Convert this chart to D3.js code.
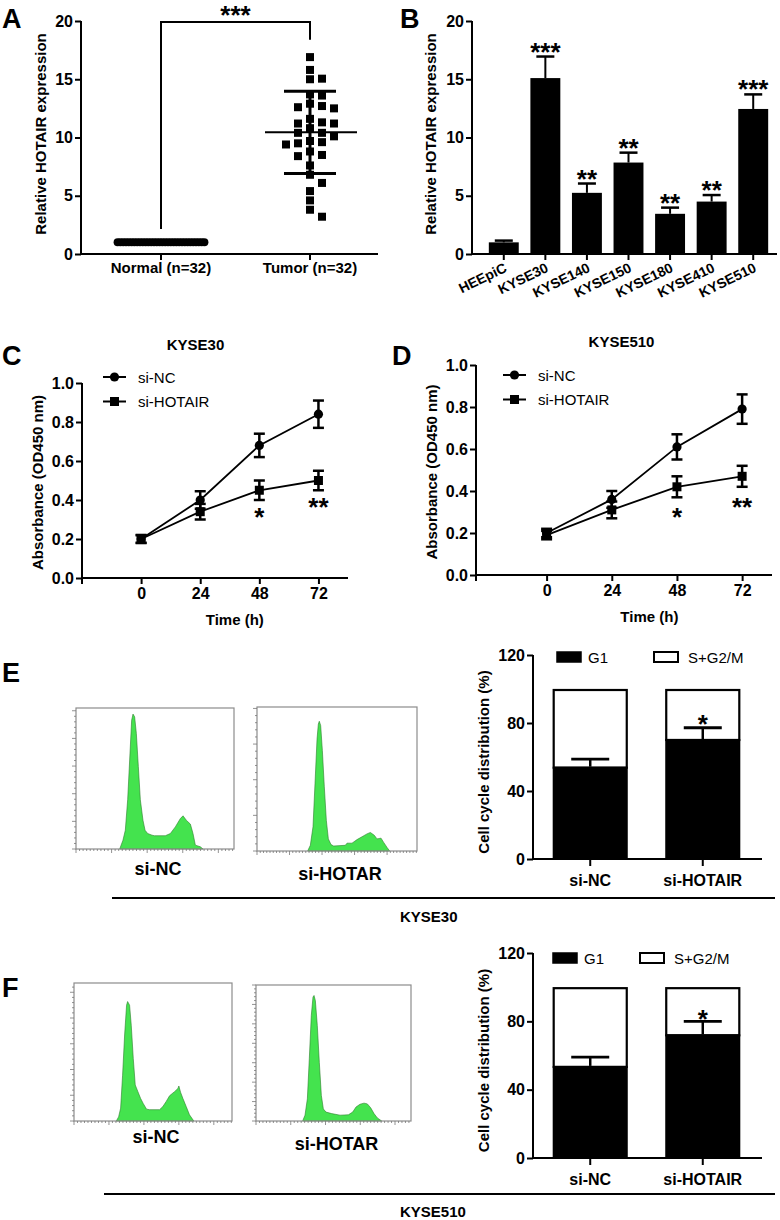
<!DOCTYPE html>
<html><head><meta charset="utf-8">
<script src="https://cdn.jsdelivr.net/npm/d3@7"></script>
<style>body{margin:0;background:#fff}</style>
</head><body>
<script>
// ================= DATA =================
// Panel A
const aGroups = ["Normal (n=32)", "Tumor (n=32)"];
const aNormal = [1.0,1.0,1.0,1.0,1.0,1.0,1.0,1.0,1.0,1.0,1.0,1.0,1.0,1.0,1.0,1.0,
                 1.0,1.0,1.0,1.0,1.0,1.0,1.0,1.0,1.0,1.0,1.0,1.0,1.0,1.0,1.0,1.0];
const aTumor = [16.9,15.8,15.0,15.05,13.6,13.7,12.9,12.6,12.5,12.7,11.6,11.3,11.2,11.2,10.8,10.4,
                10.1,10.4,9.7,9.6,9.4,9.5,8.8,8.4,8.5,7.6,6.8,6.1,5.4,4.6,3.8,3.2];
const aMean = [1.0, 10.45];
const aSD = [0, 3.53];
const aTicks = [0,5,10,15,20];
const aStars = "***";

// Panel B
const bCells = ["HEEpiC","KYSE30","KYSE140","KYSE150","KYSE180","KYSE410","KYSE510"];
const bValues = [1.0, 15.1, 5.25, 7.85, 3.45, 4.5, 12.45];
const bErrors = [0.15, 1.85, 0.8, 0.85, 0.53, 0.56, 1.25];
const bStars = ["", "***", "**", "**", "**", "**", "***"];
const bTicks = [0,5,10,15,20];

// Panels C / D
const timeH = [0, 24, 48, 72];
const odTicks = [0, 0.2, 0.4, 0.6, 0.8, 1.0];
const cNC = [0.20, 0.40, 0.68, 0.84];
const cNCerr = [0.02, 0.045, 0.06, 0.07];
const cHOT = [0.20, 0.34, 0.45, 0.50];
const cHOTerr = [0.02, 0.04, 0.05, 0.05];
const cStars = ["", "", "*", "**"];
const dNC = [0.20, 0.36, 0.61, 0.79];
const dNCerr = [0.02, 0.04, 0.06, 0.07];
const dHOT = [0.19, 0.31, 0.42, 0.47];
const dHOTerr = [0.02, 0.04, 0.05, 0.05];
const dStars = ["", "", "*", "**"];
const seriesNames = ["si-NC", "si-HOTAIR"];

// Panels E / F : cell cycle
const ccGroups = ["si-NC", "si-HOTAIR"];
const ccTicks = [0, 40, 80, 120];
const ccTotal = [100, 100];
const eG1 = [54.3, 70.6];
const eG1err = [4.5, 6.6];
const eStars = ["", "*"];
const fG1 = [53.9, 72.4];
const fG1err = [5.2, 7.6];
const fStars = ["", "*"];
const legendNames = ["G1", "S+G2/M"];

// Flow histograms [channel, count]
const e1Hist = [[61.4,0],[66.0,16],[69.3,34],[72.6,89],[75.4,161],[78.2,233],[80.1,244],[82.4,239],[84.8,209],[87.6,149],[90.4,89],[94.1,52],[97.0,34],[100.7,28],[106.8,25],[110.1,24],[125.5,24],[132.6,28],[139.6,40],[146.6,55],[150.4,60],[155.0,52],[160.7,45],[164.4,28],[167.7,7],[174.7,4],[178.5,0]];
const e2Hist = [[77.9,0],[82.0,8],[86.1,34],[89.2,95],[92.3,157],[94.3,178],[95.8,182],[97.9,176],[100.5,141],[103.5,90],[106.6,43],[109.7,17],[113.8,9],[117.9,7],[135.8,8],[138.4,11],[146.1,11],[153.8,16],[161.5,20],[169.1,24],[174.3,26],[180.4,22],[184.5,17],[190.7,18],[194.8,12],[199.9,5],[204.0,0]];
const f1Hist = [[60.5,0],[63.8,8],[66.7,25],[69.5,89],[72.4,167],[75.2,225],[76.7,232],[79.5,225],[81.9,186],[84.8,121],[87.6,70],[91.4,57],[95.2,44],[99.0,34],[103.8,23],[108.1,22],[122.4,22],[127.1,28],[131.9,38],[136.7,49],[143.8,57],[148.6,63],[150.0,68],[152.4,56],[155.7,44],[160.5,28],[165.2,12],[171.4,0]];
const f2Hist = [[67.1,0],[70.5,15],[73.9,57],[76.7,160],[79.6,272],[82.0,319],[83.5,323],[85.4,310],[88.2,246],[91.1,151],[94.0,66],[96.9,31],[100.7,23],[108.9,19],[120.9,15],[132.9,16],[139.1,23],[143.9,36],[149.6,43],[155.4,46],[160.2,44],[165.0,34],[169.8,19],[174.6,8],[180.8,0]];
const histLabels = ["si-NC", "si-HOTAR"];
const cellLines = ["KYSE30", "KYSE510"];

// ================= DRAW =================
const W = 780, H = 1220;
const FONT = "'Liberation Sans', Arial, Helvetica, sans-serif";
const svg = d3.select("body").append("svg").attr("width", W).attr("height", H)
  .style("font-family", FONT);
svg.append("rect").attr("width", W).attr("height", H).attr("fill", "#fff");

function txt(x, y, s, o = {}) {
  return svg.append("text").attr("x", x).attr("y", y).text(s)
    .attr("font-size", o.size || 16).attr("font-weight", o.weight || "bold")
    .attr("text-anchor", o.anchor || "start").attr("fill", "#000");
}
function vlabel(x, y, s, size) {
  svg.append("text").attr("transform", `translate(${x},${y}) rotate(-90)`)
    .attr("text-anchor", "middle").attr("font-size", size || 15).attr("font-weight", "bold").text(s);
}
function line(g, x1, y1, x2, y2, w) {
  return g.append("line").attr("x1", x1).attr("y1", y1).attr("x2", x2).attr("y2", y2)
    .attr("stroke", "#000").attr("stroke-width", w || 2).attr("stroke-linecap", "butt");
}
function styleAxis(sel, fs) {
  sel.select(".domain").remove();
  sel.selectAll(".tick line").attr("stroke", "#000").attr("stroke-width", 2);
  sel.selectAll(".tick text").attr("font-family", FONT).attr("font-weight", "bold")
    .attr("font-size", fs || 16).attr("fill", "#000");
}
function yAxis(x, scale, ticks, fmt, yTopPix, yBotPix) {
  const g = svg.append("g").attr("transform", `translate(${x},0)`)
    .call(d3.axisLeft(scale).tickValues(ticks).tickSize(6).tickPadding(2).tickFormat(fmt || d3.format("d")));
  styleAxis(g);
  line(g, 0, yTopPix, 0, yBotPix, 2);
  return g;
}

// Panel letters
[["A",2,28],["B",400,28],["C",2,365],["D",392,365],["E",2,682],["F",2,997]].forEach(([l,x,y]) =>
  txt(x, y, l, {size: 27}));

// ---------- Panel A ----------
(function () {
  const y = d3.scaleLinear().domain([0, 20]).range([254, 21]);
  const x = d3.scalePoint().domain(aGroups).range([161, 310]);
  const g = svg.append("g");
  yAxis(81, y, aTicks, d3.format("d"), y(20), y(0) + 1);
  line(g, 80, y(0), 378, y(0), 2);
  aGroups.forEach(gr => line(g, x(gr), y(0), x(gr), y(0) + 6, 2));
  aGroups.forEach(gr => txt(x(gr), 273, gr, {size: 15, anchor: "middle"}));
  vlabel(46, 134, "Relative HOTAIR expression", 15);

  // Normal group: tight row
  const nx = x(aGroups[0]);
  g.selectAll(".nrm").data(aNormal).enter().append("circle")
    .attr("cx", (d, i) => nx + (i - (aNormal.length - 1) / 2) * 2.8)
    .attr("cy", d => y(d)).attr("r", 4).attr("fill", "#000");
  // Tumor group: beeswarm
  const tx = x(aGroups[1]);
  const sq = 8, step = 12, placed = [];
  aTumor.map(v => v).sort((a, b) => b - a).forEach(v => {
    const py = y(v);
    for (const s of [0, 1, -1, 2, -2, 3, -3]) {
      if (!placed.some(q => q.s === s && Math.abs(q.y - py) < sq + 1)) { placed.push({s, y: py}); break; }
    }
  });
  g.selectAll(".tum").data(placed).enter().append("rect")
    .attr("x", d => tx + d.s * step - sq / 2).attr("y", d => d.y - sq / 2)
    .attr("width", sq).attr("height", sq).attr("fill", "#000");
  // mean & SD
  aGroups.forEach((gr, i) => {
    line(g, x(gr) - 45, y(aMean[i]), x(gr) + 47, y(aMean[i]), 2);
    if (aSD[i] > 0) {
      line(g, x(gr), y(aMean[i] - aSD[i]), x(gr), y(aMean[i] + aSD[i]), 3);
      line(g, x(gr) - 26, y(aMean[i] + aSD[i]), x(gr) + 26, y(aMean[i] + aSD[i]), 3);
      line(g, x(gr) - 26, y(aMean[i] - aSD[i]), x(gr) + 26, y(aMean[i] - aSD[i]), 3);
    }
  });
  // significance bracket
  g.append("path").attr("d", `M${x(aGroups[0])},${y(2.15)} V${y(20) + 1} H${x(aGroups[1])} V${y(18.4)}`)
    .attr("fill", "none").attr("stroke", "#000").attr("stroke-width", 2);
  txt((x(aGroups[0]) + x(aGroups[1])) / 2, 24, aStars, {size: 26, anchor: "middle"});
})();

// ---------- Panel B ----------
(function () {
  const y = d3.scaleLinear().domain([0, 20]).range([254, 21]);
  const x = d3.scaleBand().domain(bCells).range([483, 774]).paddingInner(0.28).paddingOuter(0.14);
  const g = svg.append("g");
  yAxis(472, y, bTicks, d3.format("d"), y(20), y(0) + 1);
  line(g, 471, y(0), 777, y(0), 2);
  vlabel(436, 134, "Relative HOTAIR expression", 15);
  bCells.forEach((c, i) => {
    const cx = x(c) + x.bandwidth() / 2;
    const top = y(bValues[i] + bErrors[i]);
    line(g, cx, y(bValues[i]), cx, top, 2);
    line(g, cx - 9, top, cx + 9, top, 2.5);
  });
  g.selectAll(".bar").data(bValues).enter().append("rect")
    .attr("x", (d, i) => x(bCells[i])).attr("y", d => y(d))
    .attr("width", x.bandwidth()).attr("height", d => y(0) - y(d)).attr("fill", "#000");
  bCells.forEach((c, i) => {
    const cx = x(c) + x.bandwidth() / 2;
    line(g, cx, y(0), cx, y(0) + 6, 2);
    svg.append("text").attr("transform", `translate(${cx + 4},271) rotate(-26)`)
      .attr("text-anchor", "end").attr("font-size", 14).attr("font-weight", "bold").text(c);
    if (bStars[i]) txt(cx, y(bValues[i] + bErrors[i]) + 4, bStars[i], {size: 26, anchor: "middle"});
  });
})();

// ---------- Panels C & D ----------
function growth(o) {
  const g = svg.append("g");
  const x = d3.scaleLinear().domain(o.xDom).range([o.x0, o.x1]);
  const y = d3.scaleLinear().domain([0, 1]).range([o.y0, o.y1]);
  yAxis(o.x0, y, odTicks, d3.format(".1f"), y(1), y(0) + 6);
  line(g, o.x0, y(0), o.x1, y(0), 2);
  const xa = svg.append("g").attr("transform", `translate(0,${y(0)})`)
    .call(d3.axisBottom(x).tickValues(timeH).tickSize(6).tickPadding(4));
  styleAxis(xa);
  txt(o.titleX, o.titleY, o.title, {size: 15, anchor: "middle"});
  txt((x(0) + x(72)) / 2 + 5, o.y0 + 47, "Time (h)", {size: 15, anchor: "middle"});
  vlabel(o.labX, (o.y0 + o.y1) / 2 + 2, "Absorbance (OD450 nm)", 15);
  const ln = d3.line().x((d, i) => x(timeH[i])).y(d => y(d));
  [[o.nc, o.ncErr], [o.hot, o.hotErr]].forEach(([v, e]) => {
    g.append("path").attr("d", ln(v)).attr("fill", "none").attr("stroke", "#000").attr("stroke-width", 1.8);
    v.forEach((d, i) => {
      const cx = x(timeH[i]);
      line(g, cx, y(d - e[i]), cx, y(d + e[i]), 2.5);
      line(g, cx - 5.5, y(d + e[i]), cx + 5.5, y(d + e[i]), 2.5);
      line(g, cx - 5.5, y(d - e[i]), cx + 5.5, y(d - e[i]), 2.5);
    });
  });
  g.selectAll(".nc").data(o.nc).enter().append("circle")
    .attr("cx", (d, i) => x(timeH[i])).attr("cy", d => y(d)).attr("r", 4.6).attr("fill", "#000");
  g.selectAll(".hot").data(o.hot).enter().append("rect")
    .attr("x", (d, i) => x(timeH[i]) - 4.5).attr("y", d => y(d) - 4.5).attr("width", 9).attr("height", 9).attr("fill", "#000");
  o.stars.forEach((s, i) => {
    if (s) txt(x(timeH[i]), y(o.hot[i] - o.hotErr[i]) + o.starOff, s, {size: 26, anchor: "middle"});
  });
  // legend
  const lx = o.legX, ly = o.legY;
  seriesNames.forEach((n, i) => {
    const yy = ly + i * 24.5;
    line(g, lx, yy, lx + 23, yy, 2);
    if (i === 0) g.append("circle").attr("cx", lx + 11.5).attr("cy", yy).attr("r", 4.6).attr("fill", "#000");
    else g.append("rect").attr("x", lx + 7).attr("y", yy - 4.5).attr("width", 9).attr("height", 9).attr("fill", "#000");
    txt(lx + 35, yy + 5.5, n, {size: 15, weight: "normal"});
  });
}
growth({x0: 82, x1: 348, xDom: [-24, 84], y0: 578, y1: 383, nc: cNC, ncErr: cNCerr, hot: cHOT, hotErr: cHOTerr,
  stars: cStars, starOff: 26, title: "KYSE30", titleX: 195.5, titleY: 350, labX: 43, legX: 103, legY: 377});
growth({x0: 476, x1: 772, xDom: [-26, 83], y0: 575, y1: 365, nc: dNC, ncErr: dNCerr, hot: dHOT, hotErr: dHOTerr,
  stars: dStars, starOff: 29, title: "KYSE510", titleX: 621.5, titleY: 347, labX: 437, legX: 503, legY: 375});

// ---------- Flow histograms ----------
function hist(box, xMax, yMax, xMajor, yMajor, pts, label, labelY) {
  const g = svg.append("g");
  const x = d3.scaleLinear().domain([0, xMax]).range([box.x, box.x + box.w]);
  const y = d3.scaleLinear().domain([0, yMax]).range([box.y + box.h, box.y]);
  g.append("path").datum(pts)
    .attr("d", d3.area().x(d => x(d[0])).y0(y(0)).y1(d => y(d[1])))
    .attr("fill", "#44e34e").attr("stroke", "#2b7d2b").attr("stroke-width", 0.6);
  g.append("rect").attr("x", box.x).attr("y", box.y).attr("width", box.w).attr("height", box.h)
    .attr("fill", "none").attr("stroke", "#8c8c8c").attr("stroke-width", 1.2);
  const xt = d3.range(0, xMax + 0.01, xMajor / 10);
  g.selectAll(".xt").data(xt).enter().append("line")
    .attr("x1", d => x(d)).attr("x2", d => x(d)).attr("y1", box.y + box.h)
    .attr("y2", (d, i) => box.y + box.h + (i % 10 === 0 ? 4 : 2))
    .attr("stroke", "#777").attr("stroke-width", 0.8);
  const yt = d3.range(0, yMax + 0.01, yMajor / 5);
  g.selectAll(".yt").data(yt).enter().append("line")
    .attr("y1", d => y(d)).attr("y2", d => y(d)).attr("x1", box.x)
    .attr("x2", (d, i) => box.x - (i % 5 === 0 ? 4 : 2))
    .attr("stroke", "#777").attr("stroke-width", 0.8);
  txt(box.x + box.w / 2 + 3, labelY, label, {size: 18, anchor: "middle"});
}
hist({x: 76, y: 708, w: 158, h: 141}, 222, 255, 50, 50, e1Hist, histLabels[0], 875);
hist({x: 257, y: 707, w: 160, h: 144}, 246, 202, 50, 50, e2Hist, histLabels[1], 880);
hist({x: 74, y: 983, w: 158, h: 138}, 226, 268, 50, 50, f1Hist, histLabels[0], 1143);
hist({x: 256, y: 985, w: 155, h: 136}, 223, 350, 50, 50, f2Hist, histLabels[1], 1150);

// group lines & cell-line labels
line(svg, 112, 898, 775, 898, 2.2);
txt(400, 922, cellLines[0], {size: 15});
line(svg, 104, 1194, 775, 1194, 2.2);
txt(400, 1217, cellLines[1], {size: 15});

// ---------- Cell cycle stacked bars ----------
function cellCycle(o) {
  const g = svg.append("g");
  const y = d3.scaleLinear().domain([0, 120]).range([o.y0, o.y1]);
  const x = d3.scaleBand().domain(ccGroups).range([533, 760]).paddingInner(0.333).paddingOuter(0.175);
  yAxis(533, y, ccTicks, d3.format("d"), y(120), y(0) + 1);
  line(g, 532, y(0), 762, y(0), 2);
  vlabel(489, (o.y0 + o.y1) / 2 + 5, "Cell cycle distribution (%)", 15);
  ccGroups.forEach((c, i) => {
    const bx = x(c), bw = x.bandwidth(), cx = bx + bw / 2;
    g.append("rect").attr("x", bx + 1).attr("y", y(ccTotal[i]) + 1).attr("width", bw - 2)
      .attr("height", y(o.g1[i]) - y(ccTotal[i])).attr("fill", "#fff").attr("stroke", "#000").attr("stroke-width", 2.2);
    const top = y(o.g1[i] + o.err[i]);
    line(g, cx, y(o.g1[i]), cx, top, 2.5);
    line(g, cx - 19, top, cx + 19, top, 2.8);
    g.append("rect").attr("x", bx).attr("y", y(o.g1[i])).attr("width", bw)
      .attr("height", y(0) - y(o.g1[i])).attr("fill", "#000");
    line(g, cx, y(0), cx, y(0) + 7, 2);
    txt(cx, y(0) + 27, c, {size: 16, anchor: "middle"});
    if (o.stars[i]) txt(cx, top + o.starOff, o.stars[i], {size: 26, anchor: "middle"});
  });
  // legend
  g.append("rect").attr("x", o.lx1).attr("y", o.ly - 5).attr("width", 24).attr("height", 10).attr("fill", "#000")
    .attr("stroke", "#000").attr("stroke-width", 1.5);
  txt(o.lx1 + 31, o.ly + 5.5, legendNames[0], {size: 15, weight: "normal"});
  g.append("rect").attr("x", o.lx2).attr("y", o.ly - 5).attr("width", 24).attr("height", 10).attr("fill", "#fff")
    .attr("stroke", "#000").attr("stroke-width", 2);
  txt(o.lx2 + 34, o.ly + 5.5, legendNames[1], {size: 15, weight: "normal"});
}
cellCycle({y0: 859, y1: 655, g1: eG1, err: eG1err, stars: eStars, starOff: 5, lx1: 557, lx2: 654, ly: 657});
cellCycle({y0: 1158, y1: 953, g1: fG1, err: fG1err, stars: fStars, starOff: 7, lx1: 553, lx2: 640, ly: 958});
</script>
</body></html>
